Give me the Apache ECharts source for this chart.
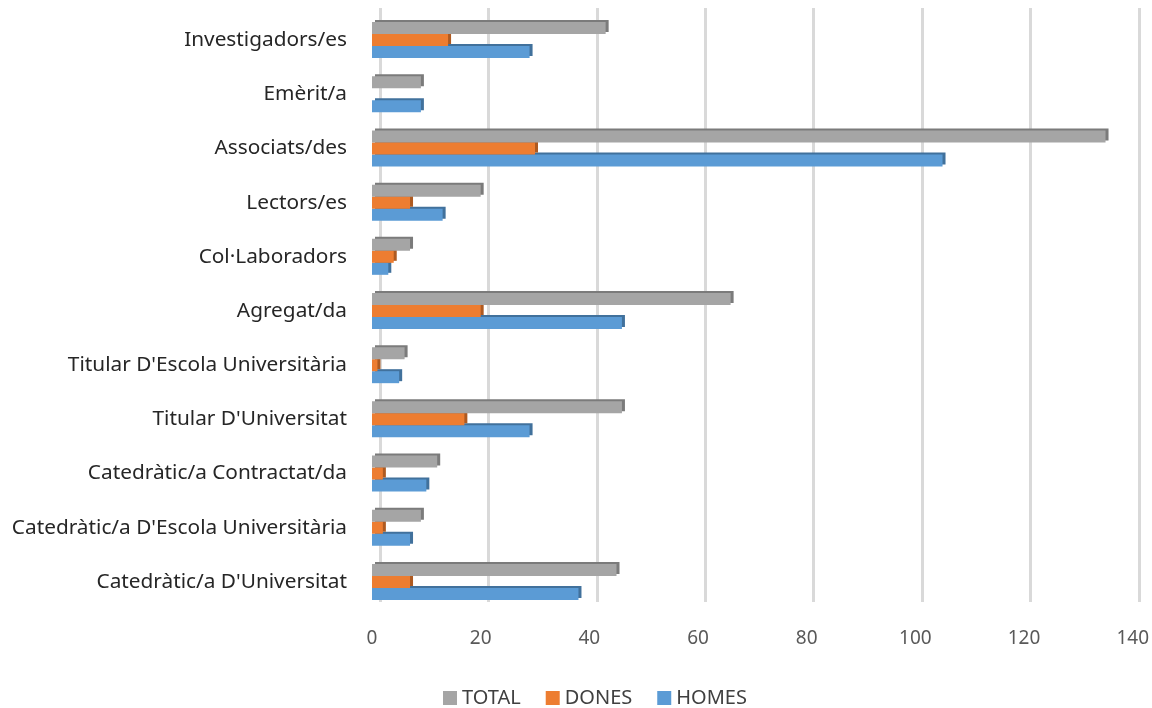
<!DOCTYPE html>
<html lang="ca">
<head>
    <meta charset="utf-8">
    <title>Professorat per categoria</title>
    <script src="https://cdn.jsdelivr.net/npm/echarts@6/dist/echarts.min.js"></script>
    <style>
        html, body { margin: 0; padding: 0; background: #fff; }
        #chart { width: 1152px; height: 708px; }
    </style>
</head>
<body>
    <div id="chart"></div>
    <script>
        // categories, bottom to top
        const categories = [
            "Catedràtic/a D'Universitat",
            "Catedràtic/a D'Escola Universitària",
            'Catedràtic/a Contractat/da',
            "Titular D'Universitat",
            "Titular D'Escola Universitària",
            'Agregat/da',
            'Col·Laboradors',
            'Lectors/es',
            'Associats/des',
            'Emèrit/a',
            'Investigadors/es'
        ];
        const homes = [38, 7, 10, 29, 5, 46, 3, 13, 105, 9, 29];
        const dones = [7, 2, 2, 17, 1, 20, 4, 7, 30, 0, 14];
        const total = [45, 9, 12, 46, 6, 66, 7, 20, 135, 9, 43];
        const xTicks = [0, 20, 40, 60, 80, 100, 120, 140];

        const chart = echarts.init(document.getElementById('chart'));
        const font = 'Noto Sans';

        // front face + darker offset shadow to fake the 3D depth
        function barSeries(name, data, color, side, z) {
            return {
                name: name,
                type: 'bar',
                data: data,
                xAxisIndex: 0,
                yAxisIndex: 0,
                z: z,
                barWidth: 12,
                barGap: '0%',
                itemStyle: {
                    color: color,
                    shadowColor: side,
                    shadowBlur: 0,
                    shadowOffsetX: 3,
                    shadowOffsetY: -2
                },
                emphasis: { disabled: true }
            };
        }

        chart.setOption({
            animation: false,
            textStyle: { fontFamily: font },
            legend: {
                top: 683,
                left: 438,
                itemWidth: 14,
                itemHeight: 14,
                itemGap: 25,
                icon: 'rect',
                data: ['TOTAL', 'DONES', 'HOMES'],
                textStyle: { fontSize: 20, color: '#404040', fontFamily: font }
            },
            grid: [
                { left: 372, right: 18, top: 13, bottom: 99 },
                { left: 380, right: 13, top: 8, bottom: 106 }
            ],
            xAxis: [{
                type: 'value',
                gridIndex: 0,
                min: xTicks[0],
                max: xTicks[xTicks.length - 1],
                interval: 20,
                axisLine: { show: false },
                axisTick: { show: false },
                splitLine: { show: false },
                axisLabel: { fontSize: 19, color: '#595959', margin: 20, fontFamily: font }
            }, {
                type: 'value',
                gridIndex: 1,
                min: xTicks[0],
                max: xTicks[xTicks.length - 1],
                interval: 20,
                axisLine: { show: false },
                axisTick: { show: false },
                axisLabel: { show: false },
                splitLine: { lineStyle: { color: '#d9d9d9', width: 3 } }
            }],
            yAxis: [{
                type: 'category',
                gridIndex: 0,
                data: categories,
                axisLine: { show: false },
                axisTick: { show: false },
                axisLabel: { fontSize: 20.8, color: '#262626', margin: 25, fontFamily: font }
            }, {
                type: 'category',
                gridIndex: 1,
                data: categories,
                show: false
            }],
            series: [
                barSeries('TOTAL', total, '#a5a5a5', '#7b7b7b', 4),
                barSeries('DONES', dones, '#ed7d31', '#ae5a21', 3),
                barSeries('HOMES', homes, '#5b9bd5', '#41719c', 2)
            ]
        });

        window.addEventListener('resize', function() {
            chart.resize();
        });
    </script>
</body>
</html>
